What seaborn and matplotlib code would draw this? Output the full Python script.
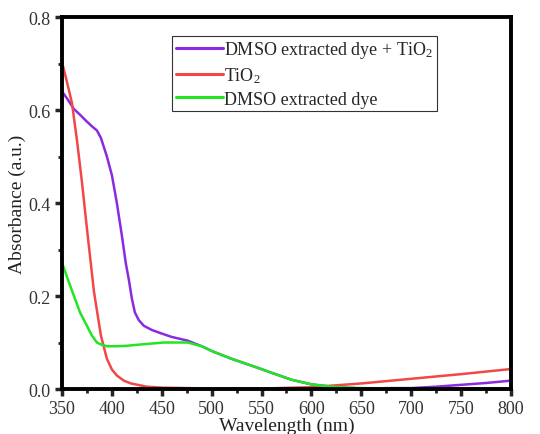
import numpy as np
import pandas as pd
import matplotlib
matplotlib.use("Agg")
import matplotlib.pyplot as plt
import seaborn as sns
from matplotlib.ticker import MultipleLocator

sns.set_theme(style="white")
plt.rcParams['font.family'] = ['Liberation Serif', 'DejaVu Serif']
plt.rcParams['mathtext.default'] = 'regular'

# Data
purple_x = [350, 355, 362, 368, 374, 380, 385, 389, 395, 400, 405, 410, 414, 417, 420, 423, 427, 432, 440, 449,
            460, 476, 490, 502, 520, 543, 560, 580, 600, 625, 650, 680, 700, 725, 750, 775, 800]
purple_y = [0.64, 0.625, 0.602, 0.59, 0.577, 0.565, 0.556, 0.54, 0.50, 0.46, 0.40, 0.33, 0.27, 0.235, 0.195,
            0.165, 0.148, 0.136, 0.127, 0.12, 0.112, 0.104, 0.092, 0.08, 0.065, 0.048, 0.035, 0.02, 0.01,
            0.004, 0.001, 0.002, 0.002, 0.005, 0.009, 0.013, 0.018]
red_x = [350, 355, 360, 365, 370, 375, 382, 389, 395, 400, 405, 412, 419, 435, 450, 500, 550, 600, 625,
         650, 700, 750, 800]
red_y = [0.703, 0.66, 0.615, 0.535, 0.445, 0.345, 0.21, 0.115, 0.065, 0.042, 0.029, 0.018, 0.012, 0.005,
         0.003, 0.001, 0.001, 0.004, 0.008, 0.012, 0.022, 0.032, 0.043]
green_x = [350, 356, 362, 368, 375, 380, 385, 390, 395, 405, 415, 430, 452, 476, 490, 502, 520, 543, 560,
           580, 600, 620, 650, 700, 750, 800]
green_y = [0.272, 0.235, 0.20, 0.165, 0.136, 0.115, 0.10, 0.095, 0.092, 0.092, 0.093, 0.096, 0.10, 0.10,
           0.092, 0.08, 0.065, 0.048, 0.035, 0.02, 0.01, 0.005, 0.002, 0.001, 0.001, 0.001]

labels = ["DMSO extracted dye + TiO$_2$", "TiO$_2$", "DMSO extracted dye"]
colors = ["#8a2be2", "#f04848", "#22e622"]

df = pd.concat([
    pd.DataFrame({"Wavelength": purple_x, "Absorbance": purple_y, "Sample": labels[0]}),
    pd.DataFrame({"Wavelength": red_x, "Absorbance": red_y, "Sample": labels[1]}),
    pd.DataFrame({"Wavelength": green_x, "Absorbance": green_y, "Sample": labels[2]}),
])

fig = plt.figure(figsize=(5.4, 4.35), dpi=100)
ax = fig.add_axes([0.1148, 0.1034, 0.8315, 0.8552])
sns.lineplot(data=df, x="Wavelength", y="Absorbance", hue="Sample", hue_order=labels,
             palette=dict(zip(labels, colors)), linewidth=1.8, ax=ax, sort=False, estimator=None)

ax.set_xlim(350, 800)
ax.set_ylim(0, 0.8)
ax.xaxis.set_major_locator(MultipleLocator(50))
ax.xaxis.set_minor_locator(MultipleLocator(25))
ax.yaxis.set_major_locator(MultipleLocator(0.2))
ax.yaxis.set_minor_locator(MultipleLocator(0.1))
ax.xaxis.set_major_formatter(matplotlib.ticker.FuncFormatter(lambda v, p: f"{v:.0f}"))
ax.yaxis.set_major_formatter(matplotlib.ticker.FuncFormatter(lambda v, p: f"{v:.1f}"))
ax.tick_params(axis='both', which='major', direction='out', length=5, width=2.5,
               labelsize=13, labelcolor='#333333', bottom=True, left=True, top=False, right=False, pad=3)
ax.tick_params(axis='both', which='minor', direction='out', length=3, width=2,
               bottom=True, left=True, top=False, right=False)
for s in ax.spines.values():
    s.set_linewidth(2.8)
    s.set_color('black')

ax.set_xlabel("Wavelength (nm)", fontsize=14, color='#222222', labelpad=0)
ax.set_ylabel("Absorbance (a.u.)", fontsize=14, color='#222222', labelpad=2)

leg = ax.legend(loc='upper left', bbox_to_anchor=(0.245, 0.95), fontsize=13, frameon=True,
                fancybox=False, edgecolor='#333333', framealpha=1, handlelength=2.6,
                handletextpad=0.1, borderpad=0.2, labelspacing=0.3, borderaxespad=0)
leg.get_frame().set_linewidth(0.8)
for line in leg.get_lines():
    line.set_linewidth(2.2)

fig.savefig("out.png", dpi=100)
